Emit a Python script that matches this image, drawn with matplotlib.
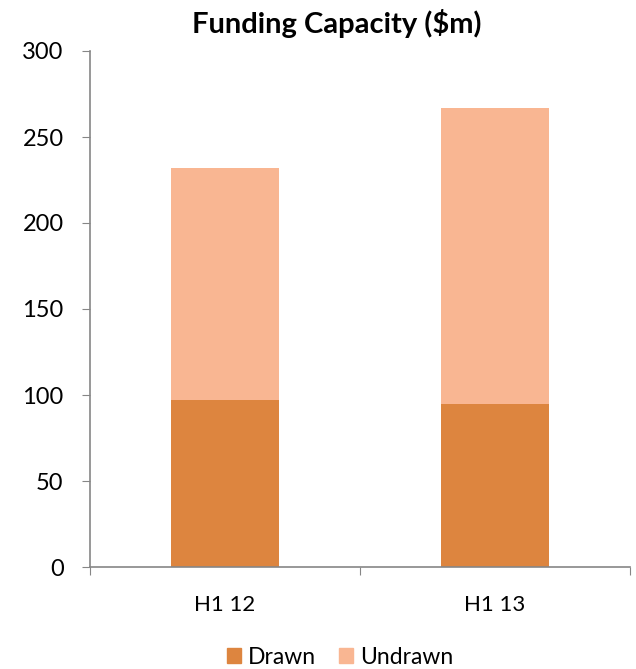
import matplotlib
matplotlib.use("Agg")
import matplotlib.pyplot as plt
from matplotlib.patches import Patch

categories = ["H1 12", "H1 13"]
drawn = [97, 95]
undrawn = [135, 172]
y_ticks = [0, 50, 100, 150, 200, 250, 300]

c_drawn = "#DD853F"
c_undrawn = "#F9B692"
axis_grey = "#868686"

plt.rcParams["font.family"] = ["Lato", "DejaVu Sans"]

fig = plt.figure(figsize=(6.36, 6.69), dpi=100)
ax = fig.add_axes([90 / 636, 1 - 567 / 669, 540 / 636, 516 / 669])

x = list(range(len(categories)))
ax.bar(x, drawn, width=0.4, color=c_drawn, label="Drawn")
ax.bar(x, undrawn, width=0.4, bottom=drawn, color=c_undrawn, label="Undrawn")

ax.set_xlim(-0.5, len(categories) - 0.5)
ax.set_ylim(0, 300)
ax.set_yticks(y_ticks)
ax.set_yticklabels([str(t) for t in y_ticks], fontsize=17)

ax.set_xticks([i - 0.5 for i in range(len(categories) + 1)])
ax.set_xticklabels([])
ax.set_xticks(x, minor=True)
ax.set_xticklabels(categories, minor=True, fontsize=16)
ax.tick_params(axis="x", which="minor", length=0, pad=20)
ax.tick_params(axis="x", which="major", length=6, color=axis_grey, direction="out")
ax.tick_params(axis="y", length=6, color=axis_grey, direction="out", pad=13)

for side in ["top", "right"]:
    ax.spines[side].set_visible(False)
for side in ["left", "bottom"]:
    ax.spines[side].set_color(axis_grey)
    ax.spines[side].set_linewidth(1.2)

fig.text(337 / 636, 1 - 23 / 669, "Funding Capacity ($m)", ha="center", va="center",
         fontsize=21, fontweight="bold")

handles = [Patch(color=c_drawn, label="Drawn"), Patch(color=c_undrawn, label="Undrawn")]
fig.legend(handles=handles, loc="center", bbox_to_anchor=(340 / 636, 1 - 657 / 669),
           ncol=2, frameon=False, fontsize=16.5, handlelength=0.62, handleheight=0.62,
           handletextpad=0.3, columnspacing=1.0, borderpad=0)

fig.savefig("out.png", dpi=100)
